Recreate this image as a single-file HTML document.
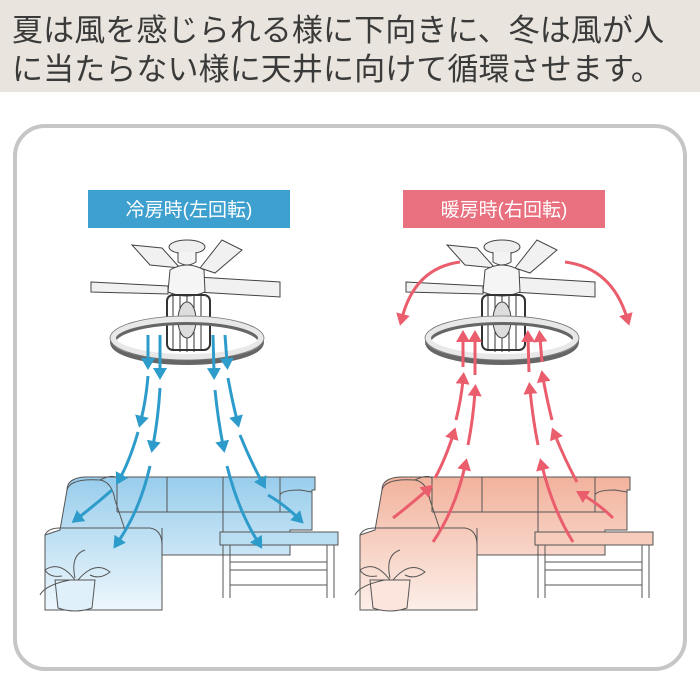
<!DOCTYPE html>
<html><head><meta charset="utf-8"><style>
body{margin:0;width:700px;height:700px;background:#fff;overflow:hidden;font-family:"Liberation Sans","Noto Sans CJK JP",sans-serif}
.banner{position:absolute;left:0;top:0;width:700px;height:92px;background:#e9e5de}
.banner div{position:absolute;left:12px;font-size:31px;color:#3a3a3a;letter-spacing:0.1px;white-space:nowrap}
</style></head><body>
<div class="banner"><div style="top:5px">夏は風を感じられる様に下向きに、冬は風が人</div><div style="top:44px">に当たらない様に天井に向けて循環させます。</div></div>
<svg width="700" height="700" style="position:absolute;left:0;top:0">
<defs>
<linearGradient id="G" x1="0" y1="0" x2="0" y2="1"><stop offset="0" stop-color="#98cdec"/><stop offset="1" stop-color="#eef7fc"/></linearGradient>
<linearGradient id="G2" x1="0" y1="0" x2="0" y2="1"><stop offset="0" stop-color="#f2b29c"/><stop offset="1" stop-color="#fcefe9"/></linearGradient>
<marker id="mb2" markerWidth="14" markerHeight="14" refX="4" refY="7" orient="auto" markerUnits="userSpaceOnUse"><path d="M0,0 L12,7 L0,14 Z" fill="#2e9ccb"/></marker>
<marker id="mr2" markerWidth="14" markerHeight="14" refX="4" refY="7" orient="auto" markerUnits="userSpaceOnUse"><path d="M0,0 L12,7 L0,14 Z" fill="#ea5d6c"/></marker>
<g id="fan" stroke="#444" stroke-width="1">
<polygon points="150,265 132,245 162,248 180,268" fill="#f1f1f1"/>
<polygon points="200,268 222,240 242,250 215,273" fill="#f1f1f1"/>
<polygon points="91,282 168,286 168,294 91,292" fill="#f1f1f1"/>
<polygon points="197,277 280,282 280,297 197,292" fill="#f1f1f1"/>
<ellipse cx="187" cy="247" rx="18" ry="7" fill="#eee"/>
<path d="M178,252 L178,262 Q187,268 196,262 L196,252" fill="#f3f3f3"/>
<path d="M170,270 Q187,260 204,270 L205,292 Q187,300 168,292 Z" fill="#f5f5f5"/>
<rect x="167" y="295" width="43" height="55" rx="6" fill="none" stroke="#333" stroke-width="2"/>
<path d="M173,296 V350 M180,296 V352 M187,296 V352 M194,296 V352 M201,296 V350" stroke="#333"/>
<ellipse cx="187" cy="320" rx="9" ry="18" fill="#ddd"/>
<ellipse cx="187" cy="342" rx="74" ry="20" fill="none" stroke="#666" stroke-width="6"/>
<ellipse cx="187" cy="338" rx="74" ry="19" fill="none" stroke="#e8e8e8" stroke-width="6"/>
<ellipse cx="187" cy="338" rx="77" ry="22" fill="none" stroke="#777" stroke-width="0.8"/>
</g>
</defs>
<rect x="15" y="126" width="670" height="543" rx="30" fill="#fff" stroke="#c6c6c6" stroke-width="4"/>
<rect x="88" y="190" width="202" height="38" fill="#3ea0cf"/>
<text x="189" y="216" text-anchor="middle" fill="#fff" font-size="19" font-family="Liberation Sans,Noto Sans CJK JP,sans-serif">冷房時(左回転)</text>
<rect x="403" y="190" width="202" height="38" fill="#e9707e"/>
<text x="504" y="216" text-anchor="middle" fill="#fff" font-size="19" font-family="Liberation Sans,Noto Sans CJK JP,sans-serif">暖房時(右回転)</text>

<g>
<path d="M67,490 Q67,478 85,477 L315,477 L315,490 L312,490 L312,530 L290,530 L290,555 L162,555 L162,610 L45,610 L45,535 L60,530 Z" fill="url(#G)" stroke="#555"/>
<path d="M67,490 Q70,478 100,480 Q112,482 115,500 L125,530 M100,480 Q112,474 117,478 L117,512 M167,477 V512 M223,477 V532 M280,477 V512 M117,512 L290,512 M280,495 Q282,490 300,490 L312,492 M45,535 Q48,528 60,528 L150,528 Q162,530 162,545 M162,528 L162,555" fill="none" stroke="#555"/>
<path d="M220,532 L338,532 L338,545 L220,545 Z" fill="#b9def2" stroke="#555"/>
<path d="M223,545 L223,598 M230,545 L230,598 M334,545 L334,598 M327,545 L327,598 M230,562 L327,562 M230,570 L327,570 M230,585 L327,585" fill="none" stroke="#555"/>
<path d="M55,580 L95,580 L92,608 Q75,614 58,608 Z" fill="#dff0fa" stroke="#555"/>
<path d="M75,580 Q60,560 45,570 Q50,578 62,576 M75,578 Q70,555 85,550 M78,580 Q95,560 110,572 Q100,580 90,575 M70,580 Q45,585 40,595" fill="none" stroke="#555"/>
</g>
<use href="#fan"/>
<g fill="none" stroke="#2e9ccb" stroke-width="3" marker-end="url(#mb2)">
<path d="M148,335 L148,362"/><path d="M148,376 Q146,400 141,420"/><path d="M138,432 Q130,460 120,478"/><path d="M112,490 Q95,505 78,518"/>
<path d="M160,335 L160,372"/><path d="M160,388 Q158,420 153,445"/><path d="M150,466 Q140,510 118,542"/>
<path d="M213,335 L214,372"/><path d="M215,390 Q218,420 223,445"/><path d="M227,466 Q238,510 258,542"/>
<path d="M225,335 L227,362"/><path d="M228,378 Q232,400 237,420"/><path d="M240,435 Q250,460 262,482"/><path d="M268,495 Q285,505 298,518"/>
</g>

<g transform="translate(315,0)">
<path d="M67,490 Q67,478 85,477 L315,477 L315,490 L312,490 L312,530 L290,530 L290,555 L162,555 L162,610 L45,610 L45,535 L60,530 Z" fill="url(#G2)" stroke="#555"/>
<path d="M67,490 Q70,478 100,480 Q112,482 115,500 L125,530 M100,480 Q112,474 117,478 L117,512 M167,477 V512 M223,477 V532 M280,477 V512 M117,512 L290,512 M280,495 Q282,490 300,490 L312,492 M45,535 Q48,528 60,528 L150,528 Q162,530 162,545 M162,528 L162,555" fill="none" stroke="#555"/>
<path d="M220,532 L338,532 L338,545 L220,545 Z" fill="#f6cdbd" stroke="#555"/>
<path d="M223,545 L223,598 M230,545 L230,598 M334,545 L334,598 M327,545 L327,598 M230,562 L327,562 M230,570 L327,570 M230,585 L327,585" fill="none" stroke="#555"/>
<path d="M55,580 L95,580 L92,608 Q75,614 58,608 Z" fill="#fbe5dc" stroke="#555"/>
<path d="M75,580 Q60,560 45,570 Q50,578 62,576 M75,578 Q70,555 85,550 M78,580 Q95,560 110,572 Q100,580 90,575 M70,580 Q45,585 40,595" fill="none" stroke="#555"/>
<use href="#fan"/>
</g>
<g fill="none" stroke="#ea5d6c" stroke-width="3" marker-end="url(#mr2)">
<path d="M460,262 Q415,268 402,318"/><path d="M565,262 Q612,268 627,318"/>
<path d="M463,367 L463,338"/><path d="M456,420 Q461,400 463,380"/><path d="M435,478 Q445,460 453,435"/><path d="M393,518 Q410,505 427,490"/>
<path d="M475,375 L475,338"/><path d="M468,445 Q473,420 475,392"/><path d="M433,542 Q455,510 465,466"/>
<path d="M529,372 L528,338"/><path d="M538,445 Q533,420 530,390"/><path d="M573,542 Q553,510 542,466"/>
<path d="M542,362 L540,338"/><path d="M552,420 Q547,400 543,378"/><path d="M577,482 Q565,460 555,435"/><path d="M613,518 Q600,505 583,495"/>
</g>
</svg>
</body></html>
